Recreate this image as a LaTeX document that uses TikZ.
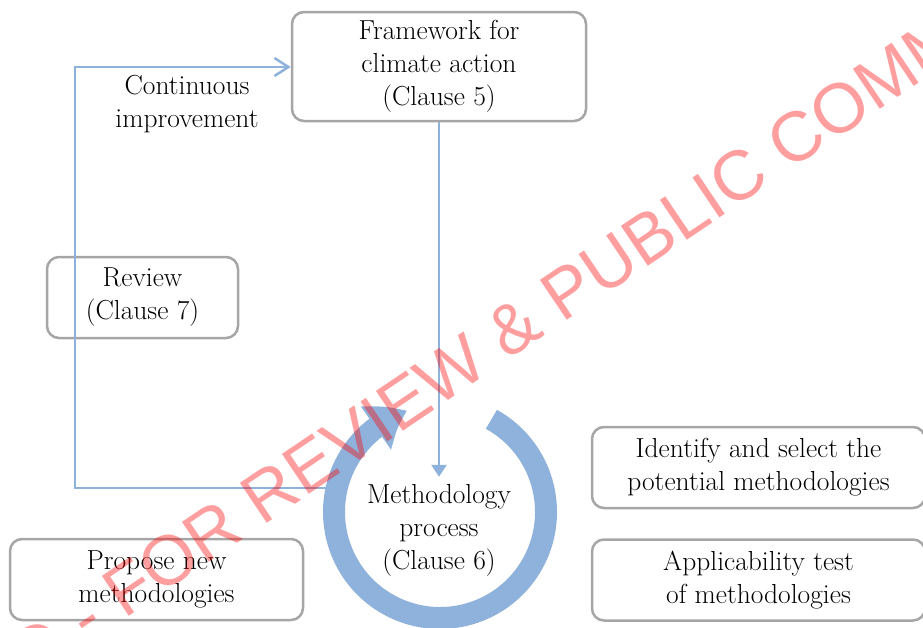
\documentclass[tikz,border=0pt]{standalone}
\usepackage{fontspec}
\newfontfamily\stampfont{Liberation Sans}
\usetikzlibrary{arrows.meta,bending}
\definecolor{boxgrey}{RGB}{166,166,166}
\definecolor{flowblue}{RGB}{143,178,220}

\tikzset{clausebox/.style = {draw=boxgrey, line width=2.5pt, rounded corners=12pt,
                             align=center, minimum width=#1, minimum height=81pt,
                             inner sep=0pt},
         clausebox/.default=191pt,
         flow/.style = {draw=flowblue, line width=2.5pt},
         ring/.style = {draw=flowblue, line width=22pt},
         stamp/.style = {font=\stampfont\fontsize{70}{70}\selectfont, text=red,
                         text opacity=0.38, rotate=34, inner sep=0pt}
        }

\begin{document}
\begin{tikzpicture}[x=1pt, y=-1pt, font=\fontsize{27.5}{33}\selectfont]
  \useasboundingbox (0,0) rectangle (923,627);

  % boxes
  \node[clausebox=294pt, minimum height=109pt] (frame) at (439,66.5)
       {Framework for\\climate action\\(Clause 5)};
  \node[clausebox=191pt] (review) at (142.5,297.5) {Review\\(Clause 7)};
  \node[clausebox=293pt] (propose) at (156.5,579.5) {Propose new\\methodologies};
  \node[clausebox=333pt] (identify) at (758.5,467.5)
       {Identify and select the\\potential methodologies};
  \node[clausebox=333pt] (applic) at (758.5,580) {Applicability test\\of methodologies};

  % free labels
  \node[align=center] (improve) at (187,104) {Continuous\\improvement};
  \node[align=center, inner sep=7pt] (method) at (439,530)
       {Methodology\\process\\(Clause 6)};

  % ring round the process
  \coordinate (ringc) at (440,512);
  \draw[ring, -{Triangle[length=36pt,width=50pt,bend]}]
       ([shift={(-61:106)}]ringc) arc[start angle=-61, end angle=252, radius=106];

  % connectors
  \coordinate (loopstart) at (330,488);
  \coordinate (loopcorner) at (75,67);
  \draw[flow, -{Straight Barb[length=14pt,width=18pt]}]
       (loopstart) -| (loopcorner) -- (loopcorner -| frame.west);
  \draw[flow, -{Triangle[length=12pt,width=15pt]}] (frame.south) -- (method.north);

  % watermark
  \node[stamp] (wm) at (546,306) {D - FOR REVIEW \& PUBLIC COMMENT};
\end{tikzpicture}
\end{document}
